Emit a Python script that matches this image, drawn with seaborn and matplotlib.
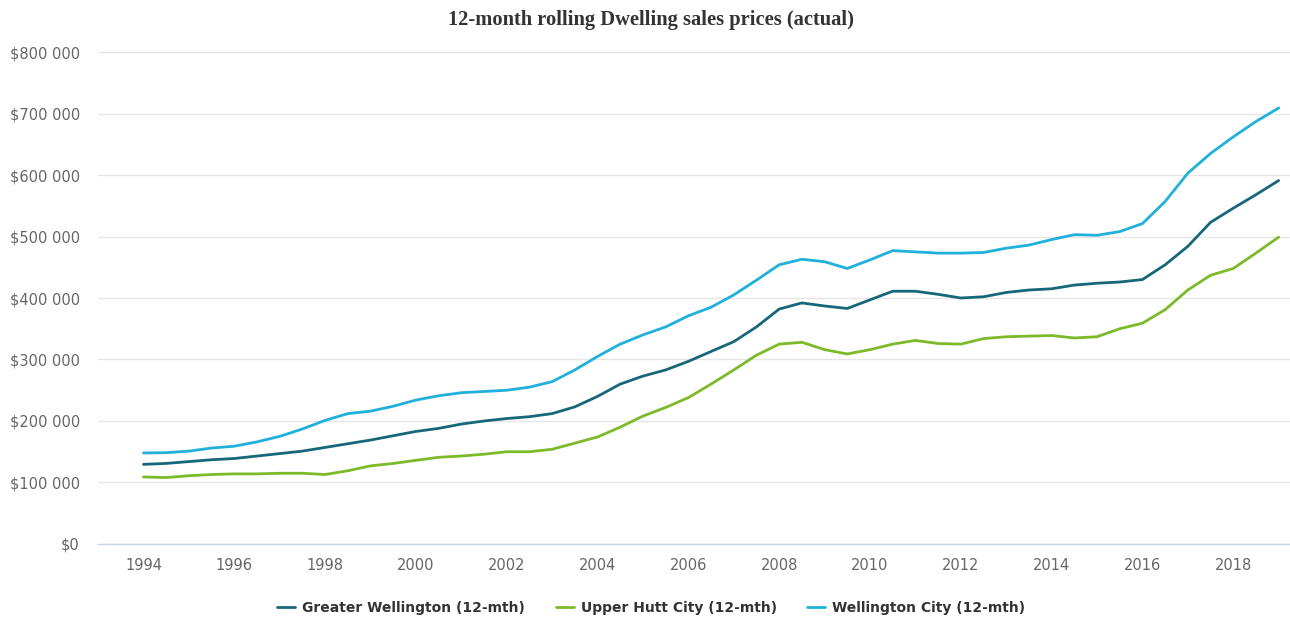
import numpy as np
import pandas as pd
import matplotlib
matplotlib.use("Agg")
import matplotlib.pyplot as plt
import seaborn as sns
from matplotlib.ticker import FuncFormatter

# ---- data (half-yearly) ----
years = [1994 + 0.5 * i for i in range(51)]

greater_wellington = [
    129.5, 131, 134, 137, 139, 143, 147, 151, 157, 163, 169, 176, 183,
    188, 195, 200, 204, 207, 212, 223, 240, 260, 273, 283, 297,
    313, 329, 353, 382, 392, 387, 383, 397, 411, 411, 406, 400, 402,
    409, 413, 415, 421, 424, 426, 430, 454, 484, 523, 546, 568, 591,
]
upper_hutt = [
    109, 108, 111, 113, 114, 114, 115, 115, 113, 119, 127, 131, 136,
    141, 143, 146, 150, 150, 154, 164, 174, 190, 208, 222, 238,
    260, 283, 307, 325, 328, 316, 309, 316, 325, 331, 326, 325, 334,
    337, 338, 339, 335, 337, 350, 359, 381, 413, 437, 448, 473, 499,
]
wellington_city = [
    148, 148.5, 151, 156, 159, 166, 175, 187, 201, 212, 216, 224, 234,
    241, 246, 248, 250, 255, 264, 283, 305, 325, 340, 353, 371,
    385, 405, 429, 454, 463, 459, 448, 462, 477, 475, 473, 473, 474,
    481, 486, 495, 503, 502, 508, 521, 557, 603, 635, 662, 687, 709,
]

series_names = ["Greater Wellington (12-mth)", "Upper Hutt City (12-mth)",
                "Wellington City (12-mth)"]
x_ticks = list(range(1994, 2019, 2))
y_ticks = [0, 100000, 200000, 300000, 400000, 500000, 600000, 700000, 800000]

df = pd.DataFrame({
    "year": years * 3,
    "price": [v * 1000 for v in greater_wellington + upper_hutt + wellington_city],
    "series": [series_names[0]] * len(years) + [series_names[1]] * len(years)
              + [series_names[2]] * len(years),
})

palette = {series_names[0]: "#17677a", series_names[1]: "#7cba2a",
           series_names[2]: "#1fb0dc"}

sns.set_style("white")
plt.rcParams["font.family"] = ["DejaVu Sans"]

fig = plt.figure(figsize=(12.9, 6.2), dpi=100)
ax = fig.add_axes([0.076, 0.1226, 0.924, 0.7935])

sns.lineplot(data=df, x="year", y="price", hue="series", palette=palette,
             linewidth=2.0, ax=ax, legend=True)

ax.set_xlim(1993.0, 2019.25)
ax.set_ylim(0, 800000)
ax.set_xticks(x_ticks)
ax.set_yticks(y_ticks)
ax.yaxis.set_major_formatter(FuncFormatter(lambda v, p: "$" + f"{int(v):,}".replace(",", " ")))
ax.set_xlabel("")
ax.set_ylabel("")

ax.grid(axis="y", color="#e6e6e6", linewidth=1)
ax.grid(axis="x", visible=False)
for s in ["top", "right", "left"]:
    ax.spines[s].set_visible(False)
ax.spines["bottom"].set_color("#ccd6eb")
ax.spines["bottom"].set_linewidth(1)
ax.tick_params(axis="x", colors="#666666", labelsize=10.5, length=8, width=1,
               direction="out", pad=2)
ax.tick_params(axis="x", which="both", color="#ccd6eb")
ax.tick_params(axis="y", colors="#666666", labelsize=10.5, length=0, pad=13)

fig.text(0.505, 1 - 20 / 620, "12-month rolling Dwelling sales prices (actual)",
         fontfamily="Liberation Serif", fontweight="bold", fontsize=14.8,
         color="#333333", ha="center", va="center")

handles, labels = ax.get_legend_handles_labels()
ax.get_legend().remove()
leg = fig.legend(handles, labels, loc="center", bbox_to_anchor=(0.505, 1 - 608 / 620),
                 ncol=3, frameon=False, handlelength=1.3, columnspacing=2.2,
                 handletextpad=0.5, prop={"weight": "bold", "size": 10})
for t in leg.get_texts():
    t.set_color("#333333")

fig.savefig("out.png", dpi=100)
